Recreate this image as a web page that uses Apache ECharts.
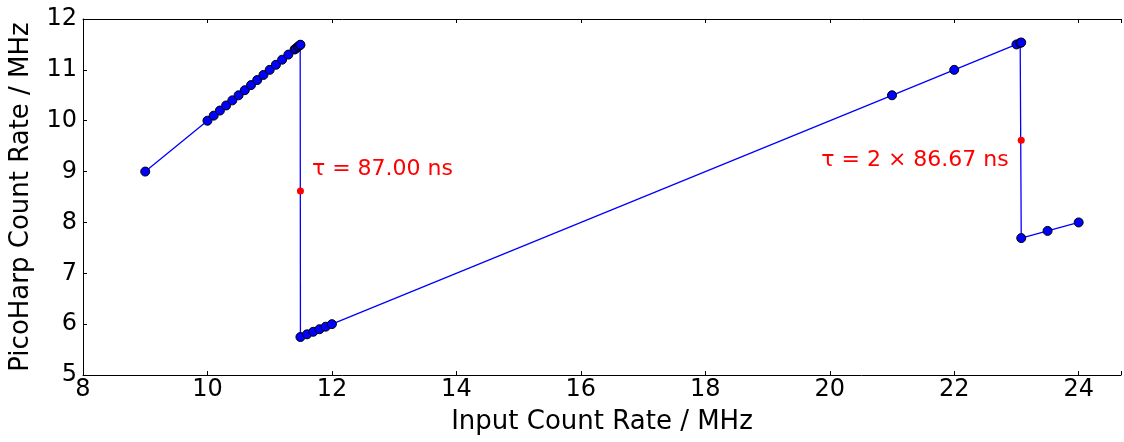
<!DOCTYPE html>
<html>
<head>
<meta charset="utf-8">
<script src="https://cdn.jsdelivr.net/npm/echarts@6/dist/echarts.min.js"></script>
<style>
html,body{margin:0;padding:0;background:#fff;}
#chart{width:1124px;height:442px;}
</style>
</head>
<body>
<div id="chart"></div>
<script>
// Measured data
var inputRate = [9.0, 10.0, 10.1, 10.2, 10.3, 10.4, 10.5, 10.6, 10.7, 10.8, 10.9, 11.0, 11.1, 11.2, 11.3, 11.4,
                 11.42, 11.45, 11.47, 11.49, 11.494,
                 11.494, 11.6, 11.7, 11.8, 11.9, 12.0,
                 21.0, 22.0, 23.0, 23.06, 23.077,
                 23.077, 23.5, 24.0];
var countRate = [9.0, 10.0, 10.1, 10.2, 10.3, 10.4, 10.5, 10.6, 10.7, 10.8, 10.9, 11.0, 11.1, 11.2, 11.3, 11.4,
                 11.42, 11.45, 11.47, 11.49, 11.494,
                 5.747, 5.8, 5.85, 5.9, 5.95, 6.0,
                 10.5, 11.0, 11.5, 11.53, 11.538,
                 7.692, 7.833, 8.0];
var dropX = [11.494, 23.077];
var dropY = [8.62, 9.615];
var dropLabels = ['τ = 87.00 ns', 'τ = 2 × 86.67 ns'];
var xTicks = [8, 10, 12, 14, 16, 18, 20, 22, 24];
var yTicks = [5, 6, 7, 8, 9, 10, 11, 12];

var mainData = inputRate.map(function (x, i) { return [x, countRate[i]]; });
var font = 'DejaVu Sans';

var chart = echarts.init(document.getElementById('chart'), null, {renderer: 'canvas'});
chart.setOption({
  animation: false,
  backgroundColor: '#fff',
  grid: {left: 81, top: 19, right: 0, bottom: 67, containLabel: false},
  xAxis: [{
    type: 'value', min: 8, max: 24.68, interval: 2, position: 'bottom',
    name: 'Input Count Rate / MHz', nameLocation: 'middle', nameGap: 34,
    nameTextStyle: {fontFamily: font, fontSize: 26, color: '#000'},
    axisLine: {show: true, lineStyle: {color: '#000', width: 1}},
    axisTick: {show: true, inside: true, length: 4, lineStyle: {color: '#000'}},
    axisLabel: {fontFamily: font, fontSize: 24, color: '#000', margin: 3,
      formatter: function (v) { return xTicks.indexOf(v) >= 0 ? String(v) : ''; }},
    splitLine: {show: false}
  }, {
    type: 'value', min: 8, max: 24.68, interval: 2, position: 'top',
    axisLine: {show: true, lineStyle: {color: '#000', width: 1}},
    axisTick: {show: true, inside: true, length: 4, lineStyle: {color: '#000'}},
    axisLabel: {show: false}, splitLine: {show: false}
  }],
  yAxis: [{
    type: 'value', min: 5, max: 12, interval: 1,
    name: 'PicoHarp Count Rate / MHz', nameLocation: 'middle', nameGap: 49,
    nameTextStyle: {fontFamily: font, fontSize: 26, color: '#000'},
    axisLine: {show: true, lineStyle: {color: '#000', width: 1}},
    axisTick: {show: true, inside: true, length: 4, lineStyle: {color: '#000'}},
    axisLabel: {fontFamily: font, fontSize: 24, color: '#000', margin: 6,
      formatter: function (v) { return yTicks.indexOf(v) >= 0 ? String(v) : ''; }},
    splitLine: {show: false}
  }],
  series: [{
    type: 'line',
    data: mainData,
    symbol: 'circle', symbolSize: 9,
    lineStyle: {color: '#0000ff', width: 1.3},
    itemStyle: {color: '#0000ff', borderColor: '#000', borderWidth: 1},
    z: 2
  }, {
    type: 'scatter',
    data: [
      {value: [dropX[0], dropY[0]], label: {show: true, formatter: dropLabels[0], position: 'right', distance: 8, offset: [0, -22]}},
      {value: [dropX[1], dropY[1]], label: {show: true, formatter: dropLabels[1], position: 'left', distance: 9, offset: [0, 20]}}
    ],
    symbol: 'circle', symbolSize: 7,
    itemStyle: {color: '#ff0000', opacity: 1},
    label: {fontFamily: font, fontSize: 22, color: '#ff0000', opacity: 1},
    z: 3
  }]
});
</script>
</body>
</html>
